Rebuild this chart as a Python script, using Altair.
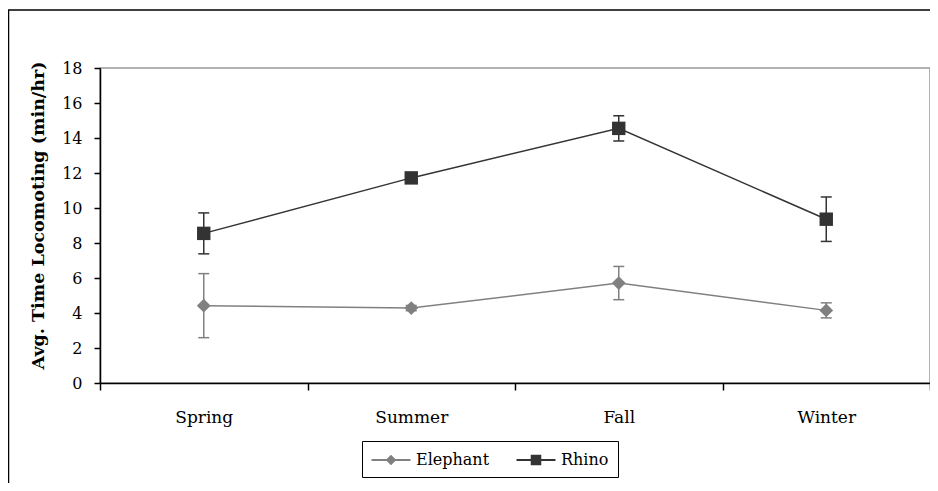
import altair as alt
import pandas as pd

# ---- data ----
seasons = ["Spring", "Summer", "Fall", "Winter"]
species = ["Elephant", "Rhino"]
elephant_mean = [4.42, 4.28, 5.71, 4.15]
elephant_err = [1.83, 0.15, 0.95, 0.43]
rhino_mean = [8.55, 11.72, 14.55, 9.36]
rhino_err = [1.17, 0.20, 0.72, 1.27]
y_ticks = [0, 2, 4, 6, 8, 10, 12, 14, 16, 18]
species_colors = ["#808080", "#333333"]

rows = []
for sp, means, errs in [("Elephant", elephant_mean, elephant_err),
                        ("Rhino", rhino_mean, rhino_err)]:
    for s, m, e in zip(seasons, means, errs):
        rows.append({"season": s, "species": sp, "mean": m,
                     "lo": m - e, "hi": m + e})
df = pd.DataFrame(rows)

FONT = "DejaVu Serif"
TITLE = "Avg. Time Locomoting (min/hr)"

x_scale = alt.Scale(type="band", domain=seasons, paddingInner=0, paddingOuter=0)
x_axis = alt.Axis(title=None, tickBand="extent", tickSize=7, labelPadding=19,
                  labelFont=FONT, labelFontSize=17, labelColor="black",
                  domainColor="black", domainWidth=1.5, tickColor="black",
                  tickWidth=1.5, labelAngle=0, grid=False)
y_scale = alt.Scale(domain=[0, 18], nice=False, zero=True)
y_axis = alt.Axis(title=TITLE, values=y_ticks, tickSize=6, labelPadding=12,
                  labelFont=FONT, labelFontSize=16, labelColor="black",
                  titleFont=FONT, titleFontSize=17.5, titleFontWeight="bold",
                  titleColor="black", titlePadding=14, titleY=147,
                  domainColor="black", domainWidth=1.5, tickColor="black",
                  tickWidth=1.5, grid=False)

xc = alt.X("season:N", sort=seasons, scale=x_scale, axis=x_axis, bandPosition=0.5)
xt = alt.X("season:N", sort=seasons, scale=x_scale, axis=x_axis)
color_scale = alt.Scale(domain=species, range=species_colors)
color_nolegend = alt.Color("species:N", scale=color_scale, legend=None)

base = alt.Chart(df)

# decorative outer frame
frame = base.transform_aggregate(n="count()").mark_rect(
    fill="transparent", stroke="black", strokeWidth=1.5
).encode(x=alt.value(-91.5), y=alt.value(-58), x2=alt.value(900), y2=alt.value(600))

rules = base.mark_rule(strokeWidth=1.5).encode(
    x=xc, y=alt.Y("lo:Q", scale=y_scale, axis=y_axis), y2="hi:Q", color=color_nolegend)
caps_hi = base.mark_tick(size=11, thickness=1.5, orient="horizontal", opacity=1).encode(
    x=xt, y=alt.Y("hi:Q", scale=y_scale, axis=y_axis), color=color_nolegend)
caps_lo = base.mark_tick(size=11, thickness=1.5, orient="horizontal", opacity=1).encode(
    x=xt, y=alt.Y("lo:Q", scale=y_scale, axis=y_axis), color=color_nolegend)
lines = base.mark_line(strokeWidth=1.5).encode(
    x=xc, y=alt.Y("mean:Q", scale=y_scale, axis=y_axis), color=color_nolegend,
    detail="species:N")
el_pts = base.transform_filter(alt.datum.species == "Elephant").mark_point(
    shape="diamond", filled=True, size=190, opacity=1).encode(
    x=xc, y=alt.Y("mean:Q", scale=y_scale, axis=y_axis), color=color_nolegend)
rh_pts = base.transform_filter(alt.datum.species == "Rhino").mark_point(
    shape="square", filled=True, size=180, opacity=1).encode(
    x=xc, y=alt.Y("mean:Q", scale=y_scale, axis=y_axis), color=color_nolegend)

# legend: symbol = line segment with marker (path spans x -2..2)
diamond_path = "M-2,-0.09H2V0.09H-2Z M0,-0.54L0.54,0L0,0.54L-0.54,0Z"
square_path = "M-2,-0.09H2V0.09H-2Z M-0.54,-0.54H0.54V0.54H-0.54Z"
leg_def = alt.Legend(title=None, orient="none", legendX=262, legendY=373,
                     direction="horizontal", strokeColor="black", fillColor="white",
                     padding=9, symbolSize=380, symbolStrokeWidth=0, symbolOffset=10,
                     labelFont=FONT, labelFontSize=16, labelColor="black",
                     columnPadding=26, labelOffset=15)
legend_layer = base.transform_filter("false").mark_point(filled=True, opacity=1).encode(
    x=xc, y=alt.Y("mean:Q", scale=y_scale, axis=y_axis),
    color=alt.Color("species:N", scale=color_scale, legend=leg_def),
    shape=alt.Shape("species:N", scale=alt.Scale(domain=species,
                                                 range=[diamond_path, square_path]),
                    legend=leg_def))

chart = alt.layer(frame, rules, caps_hi, caps_lo, lines, el_pts, rh_pts, legend_layer).resolve_legend(
    color="independent", shape="independent"
).properties(
    width=830, height=315,
    autosize=alt.AutoSizeParams(type="none"),
    padding={"left": 92, "top": 60, "right": 0, "bottom": 100},
    background="white",
).configure_view(stroke="#9a9a9a", strokeWidth=1.5)

chart.save("out.html", embed_options={"renderer": "svg", "actions": False})
